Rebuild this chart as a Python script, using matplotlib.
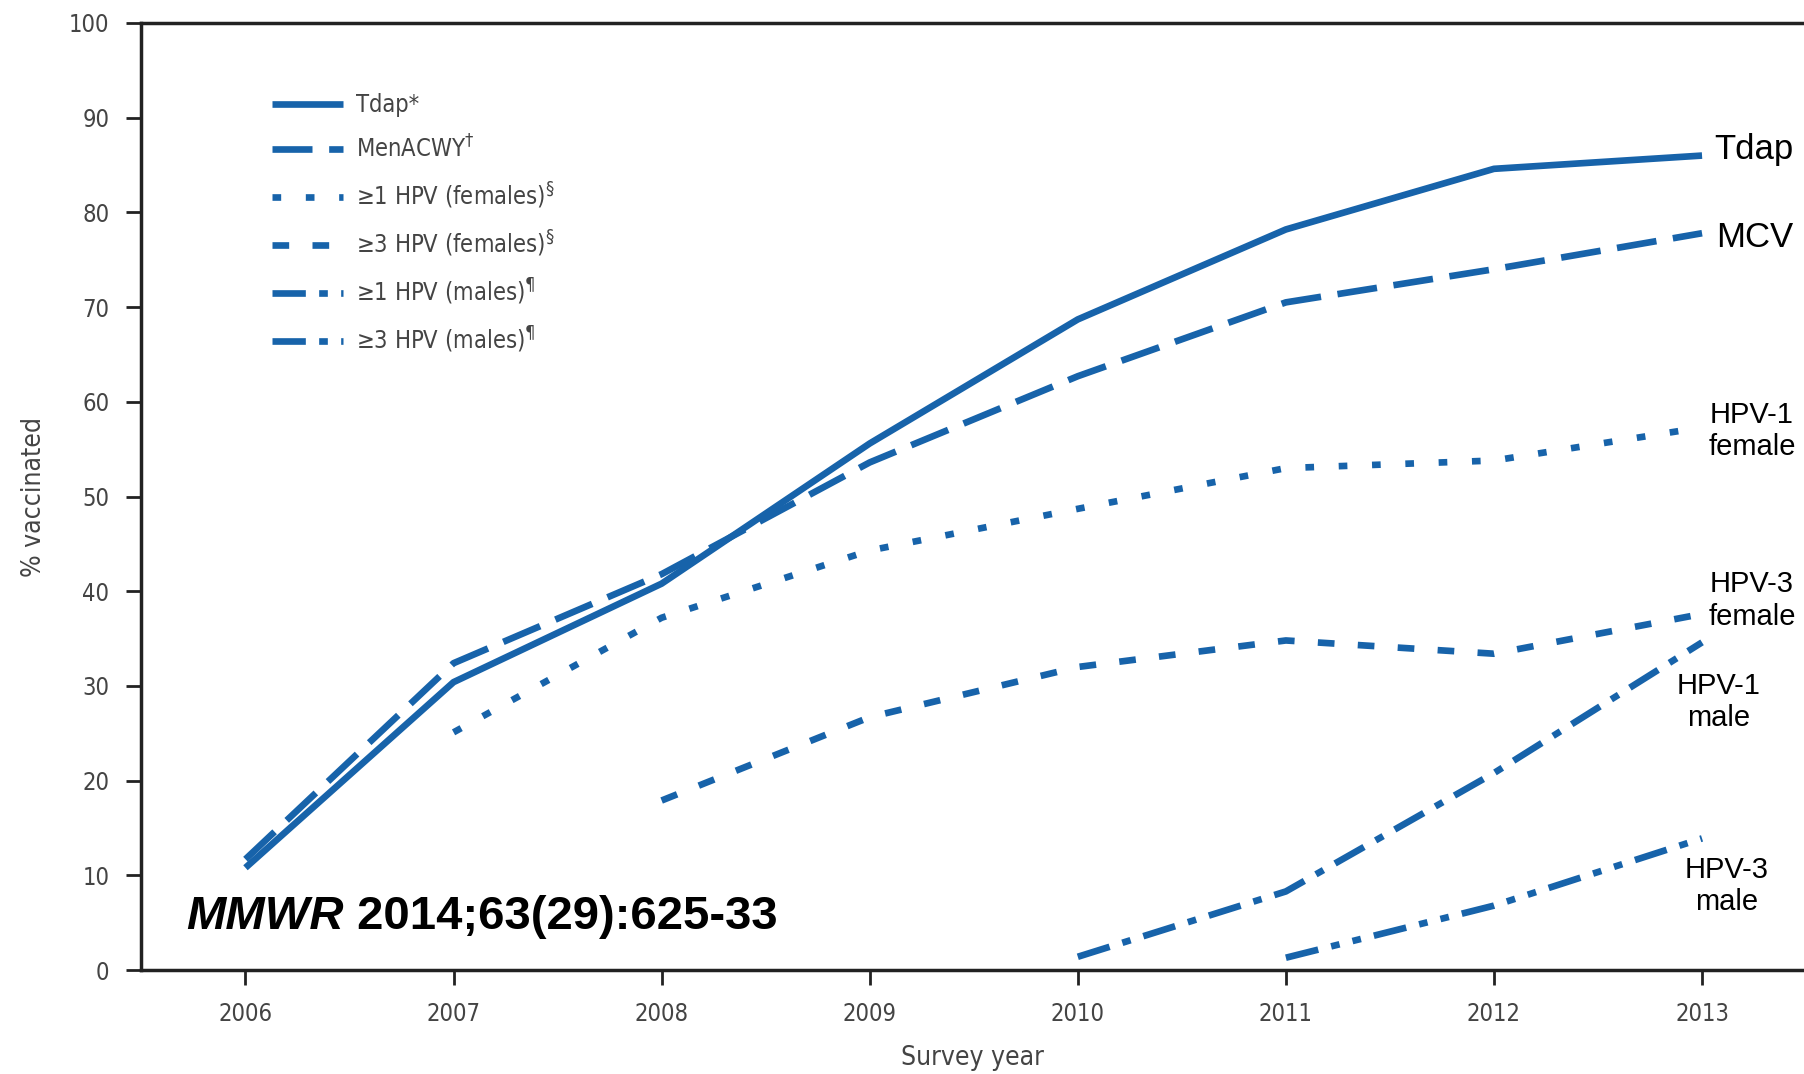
import numpy as np
import matplotlib as mpl
mpl.use('Agg')
import matplotlib.pyplot as plt

# ---------------- data (NIS-Teen coverage, %) ----------------
years_tdap = [2006, 2007, 2008, 2009, 2010, 2011, 2012, 2013]
tdap = [10.8, 30.4, 40.8, 55.6, 68.7, 78.2, 84.6, 86.0]
menacwy = [11.7, 32.4, 41.8, 53.6, 62.7, 70.5, 74.0, 77.8]

years_hpv1f = [2007, 2008, 2009, 2010, 2011, 2012, 2013]
hpv1_fem = [25.1, 37.2, 44.3, 48.7, 53.0, 53.8, 57.3]

years_hpv3f = [2008, 2009, 2010, 2011, 2012, 2013]
hpv3_fem = [17.9, 26.7, 32.0, 34.8, 33.4, 37.6]

years_hpv1m = [2010, 2011, 2012, 2013]
hpv1_male = [1.4, 8.3, 20.8, 34.6]

years_hpv3m = [2011, 2012, 2013]
hpv3_male = [1.3, 6.8, 13.9]

xticks = [2006, 2007, 2008, 2009, 2010, 2011, 2012, 2013]
yticks = [0, 10, 20, 30, 40, 50, 60, 70, 80, 90, 100]

# -------------------------------------------------------------
blue = '#1763aa'
narrow = ['DejaVu Sans']
arial = ['Liberation Sans', 'DejaVu Sans']
lw = 4.8

w, h, dpi = 1804, 1074, 100
fig = plt.figure(figsize=(w/dpi, h/dpi), dpi=dpi, facecolor='white')
ax = fig.add_axes([0.0784, 0.0968, 0.9216, 0.8818])

ax.plot(years_tdap, tdap, color=blue, lw=lw, solid_capstyle='butt', label='Tdap*')
ax.plot(years_tdap, menacwy, color=blue, lw=lw, dashes=(6, 2.5), label='MenACWY$^{\\dagger}$')
ax.plot(years_hpv1f, hpv1_fem, color=blue, lw=lw, dashes=(1.3, 3.7), label='≥1 HPV (females)$^{§}$')
ax.plot(years_hpv3f, hpv3_fem, color=blue, lw=lw, dashes=(2.5, 3.5), label='≥3 HPV (females)$^{§}$')
ax.plot(years_hpv1m, hpv1_male, color=blue, lw=lw, dashes=(5, 2, 1.3, 2), label='≥1 HPV (males)$^{¶}$')
ax.plot(years_hpv3m, hpv3_male, color=blue, lw=lw, dashes=(5, 2, 1.3, 2, 1.3, 2), label='≥3 HPV (males)$^{¶}$')

ax.set_xlim(2005.5, 2013.49)
ax.set_ylim(0, 100)
ax.set_xticks(xticks)
ax.set_yticks(yticks)
for s in ['left', 'bottom', 'top']:
    ax.spines[s].set_linewidth(2.5)
    ax.spines[s].set_color('#222222')
ax.spines['right'].set_visible(False)
ax.tick_params(direction='out', length=11, width=2, color='#222222',
               labelcolor='#444444', labelsize=17, pad=12)
for lab in ax.get_xticklabels() + ax.get_yticklabels():
    lab.set_family(narrow)
    lab.set_stretch('condensed')

ax.set_xlabel('Survey year', family=narrow, stretch='condensed', fontsize=19,
              color='#444444', labelpad=14)
ax.set_ylabel('% vaccinated', family=narrow, stretch='condensed', fontsize=19,
              color='#444444', labelpad=16)

leg = ax.legend(loc='upper left', bbox_to_anchor=(0.066, 0.948), frameon=False,
                handlelength=3.0, handletextpad=0.55, labelspacing=0.76,
                prop={'family': narrow, 'size': 17, 'stretch': 'condensed'})
for t in leg.get_texts():
    t.set_color('#444444')

# right-hand series labels
ax.text(2013.06, 86.6, 'Tdap', fontsize=25, family=arial, va='center', ha='left')
ax.text(2013.07, 77.3, 'MCV', fontsize=25, family=arial, va='center', ha='left')
ax.text(2013.24, 56.9, 'HPV-1\nfemale', fontsize=21, family=arial, va='center', ha='center')
ax.text(2013.24, 39.0, 'HPV-3\nfemale', fontsize=21, family=arial, va='center', ha='center')
ax.text(2013.08, 28.3, 'HPV-1\nmale', fontsize=21, family=arial, va='center', ha='center')
ax.text(2013.12, 8.9, 'HPV-3\nmale', fontsize=21, family=arial, va='center', ha='center')

t1 = ax.text(0.027, 0.056, 'MMWR', transform=ax.transAxes, fontsize=34, family=arial,
             fontweight='bold', style='italic', va='center', ha='left')
ax.annotate(' 2014;63(29):625-33', xy=(1, 0.5), xycoords=t1, fontsize=34,
            family=arial, fontweight='bold', va='center', ha='left')

fig.savefig('out.png', dpi=dpi, facecolor='white')
